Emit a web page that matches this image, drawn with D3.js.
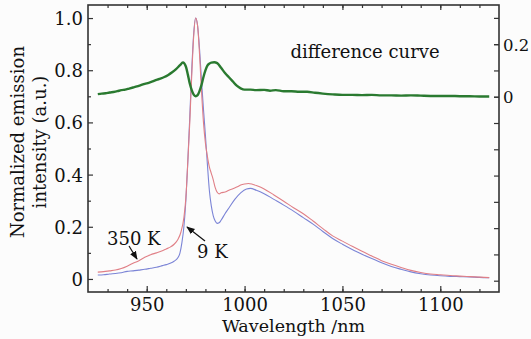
<!DOCTYPE html>
<html><head><meta charset="utf-8">
<script src="https://cdn.jsdelivr.net/npm/d3@7"></script>
<style>
html,body{margin:0;padding:0;background:#fcfcfc;}
svg{display:block;}
text{font-family:"DejaVu Serif",serif;fill:#111;}
</style></head>
<body>
<script>
// ---- data ----
const xTicks = [950, 1000, 1050, 1100];
const yTicks = [0, 0.2, 0.4, 0.6, 0.8, 1.0];
const yRightTicks = [0, 0.2];
const xLabel = "Wavelength /nm";
const yLabelLines = ["Normalized emission", "intensity (a.u.)"];
const diffLabel = "difference curve";

// 350 K spectrum [wavelength nm, normalized intensity]
const spectrum350K = [
 [925,0.026],[928,0.028],[931,0.031],[934,0.034],[937,0.040],[940,0.049],[943,0.060],[946,0.070],
 [949,0.083],[952,0.093],[955,0.100],[958,0.108],[960,0.115],[962,0.122],[964,0.133],[966,0.152],
 [967.5,0.18],[969,0.235],[970,0.31],[971,0.45],[972,0.60],[973,0.78],[974,0.93],[975,1.0],
 [976,0.97],[977,0.86],[978,0.72],[979,0.60],[980,0.52],[981,0.47],[982,0.43],[983,0.405],
 [984,0.38],[985,0.35],[986,0.332],[987,0.326],[988,0.33],[990,0.333],[992,0.34],[994,0.346],
 [996,0.352],[998,0.36],[1000,0.364],[1002,0.366],[1004,0.363],[1006,0.358],[1008,0.352],[1010,0.345],
 [1015,0.322],[1020,0.298],[1025,0.273],[1030,0.25],[1035,0.222],[1040,0.193],[1045,0.165],[1050,0.145],
 [1055,0.125],[1060,0.106],[1065,0.088],[1070,0.07],[1075,0.056],[1080,0.044],[1085,0.033],[1090,0.025],
 [1095,0.019],[1100,0.016],[1105,0.013],[1110,0.011],[1115,0.009],[1120,0.007],[1125,0.005]
];

// 9 K spectrum
const spectrum9K = [
 [925,0.015],[928,0.016],[931,0.019],[934,0.021],[937,0.024],[940,0.029],[943,0.031],[946,0.034],
 [949,0.037],[952,0.041],[955,0.045],[958,0.051],[960,0.055],[962,0.060],[964,0.068],[966,0.082],
 [967,0.10],[968,0.14],[969,0.20],[970,0.30],[971,0.45],[972,0.62],[973,0.80],[974,0.94],[975,1.0],
 [976,0.97],[977,0.88],[978,0.76],[979,0.65],[980,0.55],[981,0.44],[982,0.34],[983,0.28],[984,0.242],
 [985,0.222],[986,0.213],[987,0.215],[988,0.225],[990,0.25],[992,0.272],[995,0.305],[998,0.33],
 [1001,0.345],[1003,0.347],[1006,0.34],[1010,0.327],[1015,0.305],[1020,0.283],[1025,0.26],[1030,0.235],
 [1035,0.21],[1040,0.182],[1045,0.155],[1050,0.133],[1055,0.113],[1060,0.095],[1065,0.078],[1070,0.062],
 [1075,0.048],[1080,0.037],[1085,0.027],[1090,0.020],[1095,0.015],[1100,0.012],[1105,0.010],[1110,0.009],
 [1115,0.008],[1120,0.006],[1125,0.005]
];

// difference curve (right axis)
const differenceCurve = [
 [925,0.010],[927,0.012],[929,0.013],[931,0.016],[933,0.018],[935,0.021],[937,0.025],[939,0.027],
 [941,0.031],[943,0.035],[945,0.039],[947,0.044],[949,0.049],[951,0.053],[953,0.058],[955,0.064],
 [957,0.069],[959,0.075],[961,0.083],[963,0.093],[965,0.105],[967,0.12],[968.5,0.13],[970,0.115],
 [971,0.085],[972,0.05],[973,0.025],[974,0.008],[975,0.002],[976,0.006],[977,0.022],[978,0.045],
 [979,0.075],[980,0.10],[981,0.118],[982,0.126],[983,0.13],[984.5,0.131],[986,0.128],[988,0.11],
 [990,0.09],[992,0.074],[994,0.058],[996,0.042],[998,0.032],[1000,0.027],[1003,0.027],[1006,0.025],
 [1010,0.026],[1013,0.023],[1016,0.025],[1020,0.021],[1024,0.021],[1028,0.019],[1032,0.019],[1036,0.015],
 [1040,0.012],[1045,0.009],[1050,0.007],[1055,0.007],[1060,0.006],[1065,0.007],[1070,0.005],[1075,0.005],
 [1080,0.004],[1085,0.005],[1090,0.004],[1095,0.003],[1100,0.003],[1105,0.003],[1110,0.002],[1115,0.002],
 [1120,0.001],[1125,0.001]
];

// ---- chart ----
const W = 531, H = 339;
const mL = 88, mR = 499, mT = 5, mB = 292;
const x = d3.scaleLinear().domain([920, 1130]).range([mL, mR]);
const y = d3.scaleLinear().domain([-0.05, 1.05]).range([mB, mT]);
const yR = d3.scaleLinear().domain([-0.743, 0.349]).range([mB, mT]);

const svg = d3.select("body").append("svg").attr("width", W).attr("height", H);
svg.append("rect").attr("width", W).attr("height", H).attr("fill", "#fcfcfc");

svg.append("defs").append("clipPath").attr("id", "clip")
  .append("rect").attr("x", mL).attr("y", mT).attr("width", mR - mL).attr("height", mB - mT);

const fs = 18;
function styleAxis(g, size) {
  g.select(".domain").remove();
  g.selectAll("line").attr("stroke", "#333").attr("stroke-width", 1.2);
  g.selectAll("text").attr("font-size", size || fs).attr("font-family", "DejaVu Serif").attr("fill", "#111");
}
const rng = (a, b, s) => d3.range(a, b + s / 2, s);

// bottom axis
svg.append("g").attr("transform", `translate(0,${mB})`)
  .call(d3.axisBottom(x).tickValues(rng(930, 1120, 10)).tickSize(-3).tickFormat(""))
  .call(styleAxis);
svg.append("g").attr("transform", `translate(0,${mB})`)
  .call(d3.axisBottom(x).tickValues(xTicks).tickSize(-6).tickFormat(d3.format("d")))
  .call(styleAxis)
  .call(g => g.selectAll("text").attr("y", 19).attr("dy", null));
// top axis
svg.append("g").attr("transform", `translate(0,${mT})`)
  .call(d3.axisTop(x).tickValues(rng(930, 1120, 10)).tickSize(-3).tickFormat(""))
  .call(styleAxis);
svg.append("g").attr("transform", `translate(0,${mT})`)
  .call(d3.axisTop(x).tickValues(xTicks).tickSize(-5).tickFormat(""))
  .call(styleAxis);
// left axis
svg.append("g").attr("transform", `translate(${mL},0)`)
  .call(d3.axisLeft(y).tickValues(rng(0.1, 0.9, 0.2)).tickSize(-3).tickFormat(""))
  .call(styleAxis);
svg.append("g").attr("transform", `translate(${mL},0)`)
  .call(d3.axisLeft(y).tickValues(yTicks).tickSize(-5).tickPadding(5)
    .tickFormat(d => d === 0 ? "0" : d3.format(".1f")(d)))
  .call(styleAxis)
  .call(g => g.selectAll("text").attr("dy", "0.36em"));
// right axis
svg.append("g").attr("transform", `translate(${mR},0)`)
  .call(d3.axisRight(yR).tickValues(rng(-0.7, 0.3, 0.1)).tickSize(-5).tickFormat(""))
  .call(styleAxis);
svg.append("g").attr("transform", `translate(${mR},0)`)
  .call(d3.axisRight(yR).tickValues(yRightTicks).tickSize(-5).tickPadding(4)
    .tickFormat(d => d === 0 ? "0" : d3.format(".1f")(d)))
  .call(g => styleAxis(g, 16.5))
  .call(g => g.selectAll("text").attr("dy", "0.36em"));

// frame
svg.append("rect").attr("x", mL).attr("y", mT).attr("width", mR - mL).attr("height", mB - mT)
  .attr("fill", "none").attr("stroke", "#333").attr("stroke-width", 1.6);

const plot = svg.append("g").attr("clip-path", "url(#clip)");
const line = d3.line().x(d => x(d[0])).y(d => y(d[1])).curve(d3.curveMonotoneX);
const lineR = d3.line().x(d => x(d[0])).y(d => yR(d[1])).curve(d3.curveMonotoneX);

plot.append("path").datum(spectrum9K).attr("d", line)
  .attr("fill", "none").attr("stroke", "#7b84d6").attr("stroke-width", 1.1);
plot.append("path").datum(spectrum350K).attr("d", line)
  .attr("fill", "none").attr("stroke", "#e07f86").attr("stroke-width", 1.1);
plot.append("path").datum(differenceCurve).attr("d", lineR)
  .attr("fill", "none").attr("stroke", "#2a7a30").attr("stroke-width", 2.4);

// labels
svg.append("text").attr("x", (mL + mR) / 2).attr("y", 332).attr("text-anchor", "middle")
  .attr("font-size", 17.5).text(xLabel);
const yl = svg.append("text").attr("transform", "translate(24,142) rotate(-90)")
  .attr("text-anchor", "middle").attr("font-size", fs);
yl.append("tspan").attr("x", 0).attr("y", 0).text(yLabelLines[0]);
yl.append("tspan").attr("x", 0).attr("y", 22).text(yLabelLines[1]);

svg.append("text").attr("x", 365).attr("y", 58).attr("text-anchor", "middle")
  .attr("font-size", fs).text(diffLabel);

// annotations
svg.append("defs").append("marker").attr("id", "ah").attr("viewBox", "0 0 10 10")
  .attr("refX", 9).attr("refY", 5).attr("markerWidth", 7).attr("markerHeight", 7)
  .attr("orient", "auto").append("path").attr("d", "M0,1 L10,5 L0,9 Z").attr("fill", "#111");

svg.append("text").attr("x", 107).attr("y", 245).attr("font-size", fs).text("350 K");
svg.append("line").attr("x1", 129).attr("y1", 246).attr("x2", 137).attr("y2", 259)
  .attr("stroke", "#111").attr("stroke-width", 1.2).attr("marker-end", "url(#ah)");
svg.append("text").attr("x", 197).attr("y", 258).attr("font-size", fs).text("9 K");
svg.append("line").attr("x1", 205).attr("y1", 241).attr("x2", 187).attr("y2", 227)
  .attr("stroke", "#111").attr("stroke-width", 1.2).attr("marker-end", "url(#ah)");
</script>
</body></html>
